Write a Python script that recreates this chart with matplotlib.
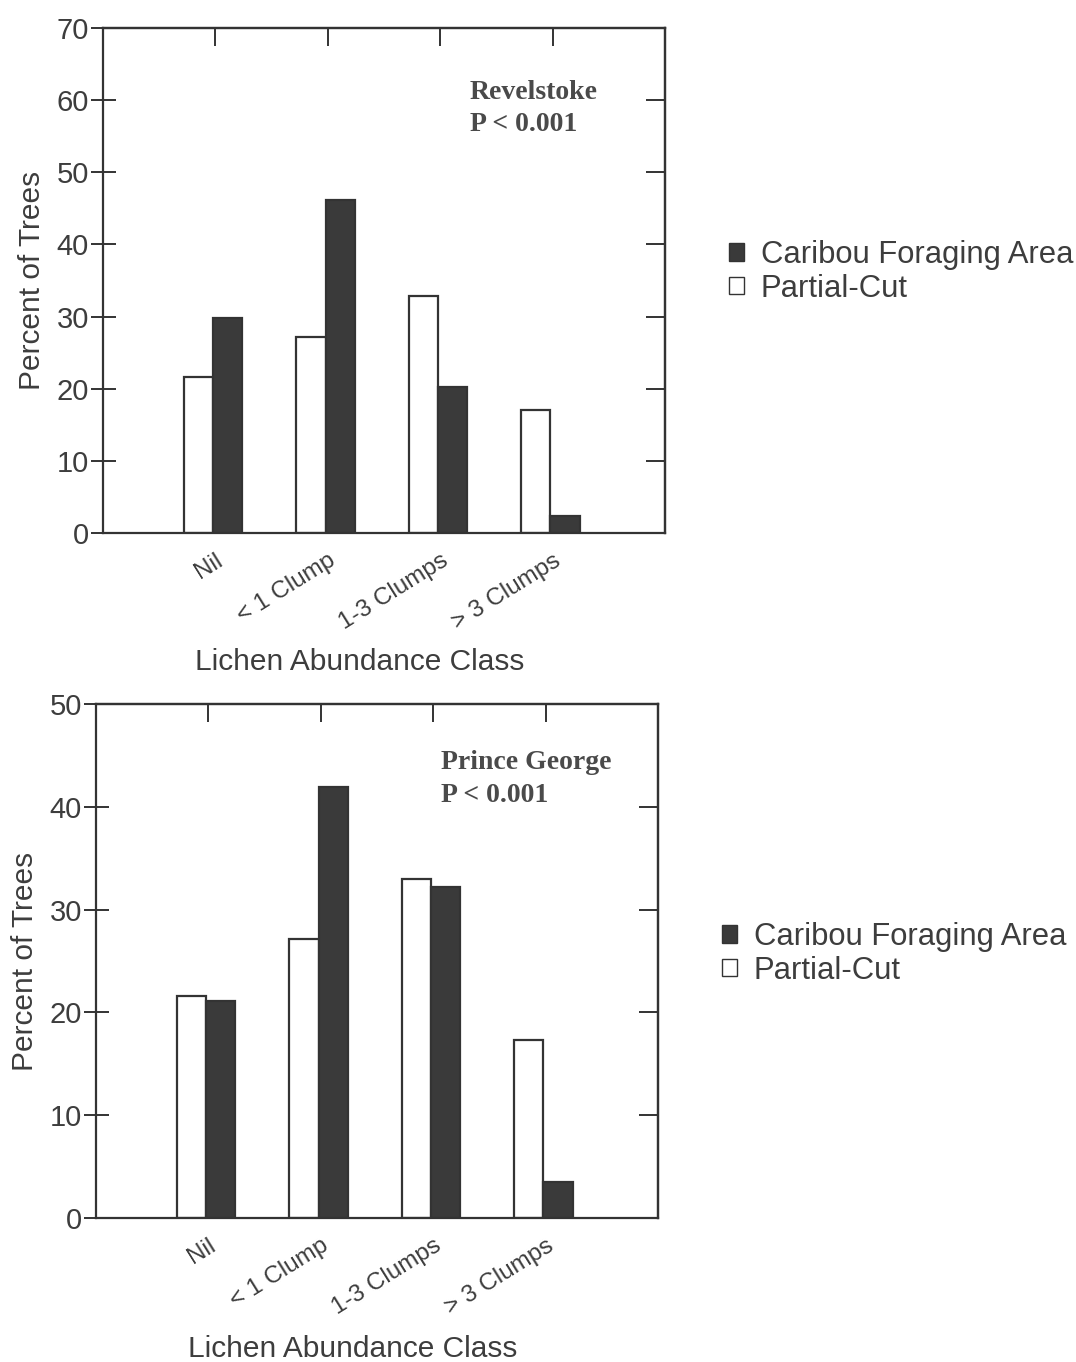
import matplotlib
matplotlib.use("Agg")
import matplotlib.pyplot as plt
from matplotlib.patches import Patch
import numpy as np

plt.rcParams['font.family'] = ['Liberation Sans', 'DejaVu Sans']

categories = ["Nil", "< 1 Clump", "1-3 Clumps", "> 3 Clumps"]
rev_partial = [21.6, 27.2, 32.8, 17.1]
rev_caribou = [29.8, 46.1, 20.2, 2.3]
pg_partial = [21.6, 27.1, 33.0, 17.3]
pg_caribou = [21.1, 41.9, 32.2, 3.5]
rev_yticks = [0, 10, 20, 30, 40, 50, 60, 70]
pg_yticks = [0, 10, 20, 30, 40, 50]

TXT = "#3d3d3d"
DARK = "#3a3a3a"
EDGE = "#333333"

fig = plt.figure(figsize=(10.76, 13.62), dpi=100)

def panel(rect, partial, caribou, yticks, site, txy, leg_xy):
    ax = fig.add_axes(rect)
    x = np.arange(len(categories))
    w = 0.26
    ax.bar(x - w / 2 - 0.02, partial, w, color="white", edgecolor=EDGE, linewidth=1.6, zorder=2)
    ax.bar(x + w / 2 - 0.02, caribou, w, color=DARK, edgecolor=EDGE, linewidth=1.6, zorder=2)
    ax.set_xlim(-1, 4)
    ax.set_ylim(yticks[0], yticks[-1])
    ax.set_yticks(yticks)
    ax.set_xticks(x)
    ax.set_xticklabels(categories, rotation=32, ha="right", va="top",
                       rotation_mode="anchor", fontsize=17.5, color=TXT)
    ax.tick_params(axis="x", length=0, pad=12)
    ax.tick_params(axis="y", direction="inout", length=18, width=1.4,
                   color=EDGE, labelsize=21, labelcolor=TXT, pad=1)
    for s in ax.spines.values():
        s.set_linewidth(1.6)
        s.set_color(EDGE)
    sec_top = ax.secondary_xaxis("top")
    sec_top.set_xticks(x)
    sec_top.set_xticklabels([])
    sec_top.tick_params(direction="in", length=13, width=1.4, color=EDGE)
    sec_top.spines["top"].set_linewidth(1.6)
    sec_top.spines["top"].set_color(EDGE)
    sec_r = ax.secondary_yaxis("right")
    sec_r.set_yticks(yticks)
    sec_r.set_yticklabels([])
    sec_r.tick_params(direction="in", length=14, width=1.4, color=EDGE)
    sec_r.spines["right"].set_linewidth(1.6)
    sec_r.spines["right"].set_color(EDGE)
    ax.set_ylabel("Percent of Trees", fontsize=21.5, color=TXT, labelpad=8)
    ax.set_xlabel("Lichen Abundance Class", fontsize=21.5, color=TXT)
    ax.xaxis.set_label_coords(0.456, -0.228)
    ax.text(txy[0], txy[1], site, transform=ax.transAxes, fontsize=20,
            fontweight="bold", family=["Liberation Serif"], color="#4a4a4a", va="center")
    ax.text(txy[0], txy[1] - 0.064, "P < 0.001", transform=ax.transAxes, fontsize=20,
            fontweight="bold", family=["Liberation Serif"], color="#4a4a4a", va="center")
    handles = [Patch(facecolor=DARK, edgecolor=EDGE, linewidth=1.0),
               Patch(facecolor="white", edgecolor=EDGE, linewidth=1.0)]
    fig.legend(handles, ["Caribou Foraging Area", "Partial-Cut"],
               loc="upper left", bbox_to_anchor=leg_xy, frameon=False,
               fontsize=22.3, handlelength=0.48, handleheight=0.48,
               handletextpad=0.55, labelspacing=0.12, labelcolor=TXT,
               borderpad=0, borderaxespad=0)
    return ax

W, H = 1076, 1362
def rect(l, t, r, b):
    return [l / W, 1 - b / H, (r - l) / W, (b - t) / H]

panel(rect(103, 28, 665, 533), rev_partial, rev_caribou, rev_yticks,
      "Revelstoke", (0.653, 0.872), (729 / W, 1 - 240 / H))
panel(rect(96, 704, 658, 1218), pg_partial, pg_caribou, pg_yticks,
      "Prince George", (0.613, 0.886), (722 / W, 1 - 922 / H))

fig.savefig("out.png", dpi=100, facecolor="white")
